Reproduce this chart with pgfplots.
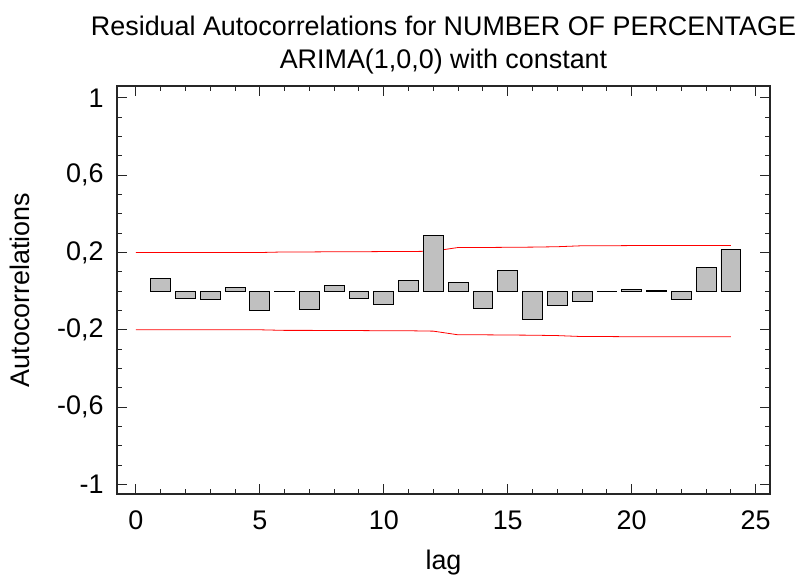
\documentclass[border=0pt]{standalone}
\usepackage{pgfplots}
\usepackage{pgfplotstable}
\pgfplotsset{compat=1.18}
\usepackage{fontspec}
\setmainfont{Liberation Sans}
\definecolor{barfill}{RGB}{192,192,192}

% residual autocorrelations by lag
\pgfplotstableread{
lag r
1 0.065
2 -0.038
3 -0.043
4 0.021
5 -0.100
6 -0.002
7 -0.092
8 0.031
9 -0.038
10 -0.071
11 0.054
12 0.290
13 0.044
14 -0.087
15 0.106
16 -0.144
17 -0.076
18 -0.052
19 -0.003
20 0.010
21 0.003
22 -0.043
23 0.125
24 0.216
}\acftab

% 95% probability limits
\pgfplotstableread{
lag up lo
0 0.200 -0.200
1 0.200 -0.200
2 0.200 -0.200
3 0.200 -0.200
4 0.200 -0.200
5 0.200 -0.200
6 0.203 -0.203
7 0.203 -0.203
8 0.204 -0.204
9 0.204 -0.204
10 0.205 -0.205
11 0.205 -0.205
12 0.207 -0.207
13 0.226 -0.226
14 0.226 -0.226
15 0.227 -0.227
16 0.228 -0.228
17 0.230 -0.230
18 0.235 -0.235
19 0.235 -0.235
20 0.236 -0.236
21 0.236 -0.236
22 0.236 -0.236
23 0.236 -0.236
24 0.236 -0.236
}\limtab

\begin{document}
\begin{tikzpicture}
\useasboundingbox (0,0) rectangle (800bp,577bp);
\begin{axis}[
  at={(117bp,83bp)}, anchor=south west,
  scale only axis, width=653bp, height=408bp,
  xmin=-0.76, xmax=25.58, ymin=-1.05, ymax=1.062,
  xtick={0,5,...,25}, minor x tick num=4,
  ytick={-1,-0.6,-0.2,0.2,0.6,1},
  yticklabels={-1,{-0,6},{-0,2},{0,2},{0,6},1},
  minor ytick={-1,-0.9,...,1},
  tick align=inside,
  major tick length=10bp, minor tick length=5bp,
  axis line style={line width=1.3pt, black!85},
  every tick/.style={black!85, line width=1pt},
  /pgf/number format/assume math mode=true,
  tick label style={font=\fontsize{27}{31}\selectfont},
  xticklabel style={yshift=-13bp},
  yticklabel style={xshift=-10bp},
  label style={font=\fontsize{27}{31}\selectfont},
  xlabel={lag},
  ylabel={Autocorrelations},
  xlabel style={at={(axis description cs:0.5,0)}, anchor=base, yshift=-75bp},
  ylabel style={at={(axis description cs:0,0.5)}, anchor=base, yshift=87bp},
  clip=false,
]
\addplot[red, line width=0.8pt] table[x=lag, y=up] {\limtab};
\addplot[red, line width=0.8pt] table[x=lag, y=lo] {\limtab};
\addplot[ybar, bar width=0.8, bar shift=0pt, fill=barfill, draw=black, line width=0.8pt] table[x=lag, y=r] {\acftab};
\node[font=\fontsize{27}{31}\selectfont, anchor=base] at (rel axis cs:0.5,1) [yshift=50bp] {Residual Autocorrelations for NUMBER OF PERCENTAGE};
\node[font=\fontsize{27}{31}\selectfont, anchor=base] at (rel axis cs:0.5,1) [yshift=17bp] {ARIMA(1,0,0) with constant};
\end{axis}
\end{tikzpicture}
\end{document}
